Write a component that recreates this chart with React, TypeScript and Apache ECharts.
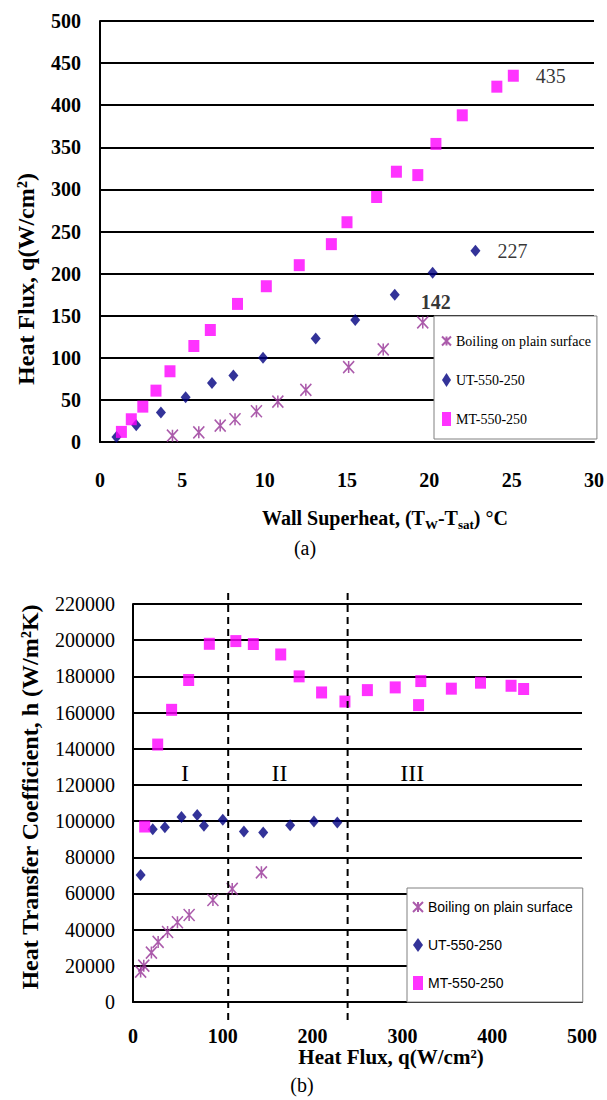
import React, { useEffect, useRef } from "react";
import * as echarts from "echarts";

// ---------- (a) Heat flux vs wall superheat ----------
const superheatTicks = [0, 5, 10, 15, 20, 25, 30];
const plainSuperheat = [4.4, 6.0, 7.3, 8.2, 9.5, 10.8, 12.5, 15.1, 17.2, 19.6];
const plainFlux = [7.5, 11.5, 19.5, 27, 36.5, 48, 62, 89, 110, 142];
const utSuperheat = [1.0, 2.2, 3.7, 5.2, 6.8, 8.1, 9.9, 13.1, 15.5, 17.9, 20.2, 22.8];
const utFlux = [6, 20, 35, 53, 70, 79, 100, 123, 145, 175, 201, 227];
const mtSuperheat = [1.3, 1.9, 2.6, 3.4, 4.25, 5.7, 6.7, 8.35, 10.1, 12.1, 14.05, 15.0, 16.8, 18.0, 19.3, 20.4, 22.0, 24.1, 25.1];
const mtFlux = [12, 27, 42, 61, 84, 114, 133, 164, 185, 210, 235, 261, 291, 321, 317, 354, 388, 422, 435];

// ---------- (b) Heat transfer coefficient vs heat flux ----------
const plainQ = [8.5, 12, 20.5, 28, 38.5, 49.5, 62.5, 89, 110.5, 143];
const plainH = [16800, 20100, 27300, 33200, 38700, 44100, 48100, 56400, 62500, 71700];
const utQ = [8.5, 22, 35.5, 54, 71.5, 79, 100, 123.5, 145, 175, 201.5, 227.5];
const utH = [70200, 95500, 96600, 102300, 103400, 97400, 100700, 94200, 93700, 97700, 99800, 99200];
const mtQ = [13, 27.5, 43, 62, 85, 114.5, 134, 164.5, 185, 210, 236, 261, 292, 320.5, 318, 354.5, 387, 421, 435];
const mtH = [97000, 142300, 161500, 178000, 198000, 199500, 197900, 192100, 180000, 171100, 166100, 172400, 173900, 177400, 164100, 173200, 176500, 174800, 173000];

const regionBounds = [106, 239];
const regionNames = ["I", "II", "III"];
const regionLabelQ = [58, 163, 311];
const regionLabelH = 126500;

const seriesNames = ["Boiling on plain surface", "UT-550-250", "MT-550-250"];

const SERIF = '"Liberation Serif", "Times New Roman", serif';
const SANS = '"Liberation Sans", Arial, sans-serif';
const PURPLE = "#963296";
const NAVY = "#000080";
const MAGENTA = "#FF00FF";
const ASTERISK = "path://M0,0L10,10M10,0L0,10M5,0L5,10";

function pts(xs: number[], ys: number[], labelIdx = -1, label: any = null) {
  return xs.map((x, i) =>
    i === labelIdx && label
      ? { value: [x, ys[i]], label: { show: true, formatter: (p: any) => String(p.value[1]), ...label } }
      : [x, ys[i]]
  );
}

const labelFont = { fontFamily: SERIF, fontSize: 20, color: "#000" };

function tickLabel(bold: boolean, margin: number) {
  const st = { fontFamily: SERIF, fontSize: 20, fontWeight: bold ? "bold" : "normal", color: "#000" };
  return {
    ...st,
    margin,
    formatter: (v: number) => `{t|${v}}`,
    rich: { t: st },
  };
}

function makeAxisCommon() {
  return {
    axisLine: { show: true, onZero: false, lineStyle: { color: "#000", width: 2 } },
    axisTick: { show: false },
  };
}

function legendText(family: string) {
  const st = { fontFamily: family, fontSize: 14, color: "#000" };
  return { ...st, rich: { t: st } };
}

export default function App() {
  const ref = useRef<HTMLDivElement>(null);

  useEffect(() => {
    if (!ref.current) return;
    const chart = echarts.init(ref.current, null, { renderer: "svg" });

    const symStar = {
      symbol: ASTERISK,
      symbolSize: [11, 12],
      itemStyle: { color: "rgba(0,0,0,0)", borderColor: PURPLE, borderWidth: 1.6 },
    };
    const symDiamond = { symbol: "diamond", symbolSize: [10, 12], itemStyle: { color: NAVY } };
    const symSquare = { symbol: "rect", symbolSize: [11, 12], itemStyle: { color: MAGENTA } };

    const option: any = {
      animation: false,
      backgroundColor: "#fff",
      textStyle: { fontFamily: SERIF },
      grid: [
        { left: 100, top: 21, width: 496, height: 421 },
        { left: 133, top: 604, width: 449, height: 398 },
      ],
      xAxis: [
        {
          gridIndex: 0,
          type: "value",
          min: superheatTicks[0],
          max: superheatTicks[superheatTicks.length - 1],
          interval: 5,
          ...makeAxisCommon(),
          splitLine: { show: false },
          axisLabel: tickLabel(true, 28),
        },
        {
          gridIndex: 1,
          type: "value",
          min: 0,
          max: 500,
          interval: 100,
          ...makeAxisCommon(),
          splitLine: { show: false },
          axisLabel: tickLabel(true, 24),
        },
      ],
      yAxis: [
        {
          gridIndex: 0,
          type: "value",
          min: 0,
          max: 500,
          interval: 50,
          ...makeAxisCommon(),
          splitLine: { show: true, lineStyle: { color: "#000", width: 2 } },
          axisLabel: tickLabel(true, 19),
        },
        {
          gridIndex: 1,
          type: "value",
          min: 0,
          max: 220000,
          interval: 20000,
          ...makeAxisCommon(),
          splitLine: { show: true, lineStyle: { color: "#000", width: 2 } },
          axisLabel: tickLabel(false, 18),
        },
      ],
      legend: [
        {
          orient: "vertical",
          left: 434,
          top: 316,
          data: seriesNames,
          itemWidth: 9,
          itemHeight: 14,
          itemGap: 25,
          padding: [18, 6, 13, 7],
          backgroundColor: "#fff",
          borderColor: "#808080",
          borderWidth: 1,
          selectedMode: false,
          formatter: (n: string) => `{t|${n}}`,
          textStyle: legendText(SERIF),
        },
        {
          orient: "vertical",
          left: 407,
          top: 888,
          data: seriesNames,
          itemWidth: 10,
          itemHeight: 14,
          itemGap: 24,
          padding: [12, 10, 12, 5],
          backgroundColor: "#fff",
          borderColor: "#808080",
          borderWidth: 1,
          selectedMode: false,
          formatter: (n: string) => `{t|${n}}`,
          textStyle: legendText(SANS),
        },
      ],
      series: [
        {
          type: "scatter",
          name: seriesNames[0],
          xAxisIndex: 0,
          yAxisIndex: 0,
          ...symStar,
          data: pts(plainSuperheat, plainFlux, plainFlux.length - 1, {
            position: "top",
            distance: 4,
            offset: [13, 0],
            ...labelFont,
            fontWeight: "bold",
          }),
        },
        {
          type: "scatter",
          name: seriesNames[1],
          xAxisIndex: 0,
          yAxisIndex: 0,
          ...symDiamond,
          data: pts(utSuperheat, utFlux, utFlux.length - 1, {
            position: "right",
            distance: 17,
            ...labelFont,
          }),
        },
        {
          type: "scatter",
          name: seriesNames[2],
          xAxisIndex: 0,
          yAxisIndex: 0,
          ...symSquare,
          data: pts(mtSuperheat, mtFlux, mtFlux.length - 1, {
            position: "right",
            distance: 17,
            ...labelFont,
          }),
        },
        {
          type: "scatter",
          name: seriesNames[0],
          xAxisIndex: 1,
          yAxisIndex: 1,
          ...symStar,
          data: pts(plainQ, plainH),
        },
        {
          type: "scatter",
          name: seriesNames[1],
          xAxisIndex: 1,
          yAxisIndex: 1,
          ...symDiamond,
          data: pts(utQ, utH),
        },
        {
          type: "scatter",
          name: seriesNames[2],
          xAxisIndex: 1,
          yAxisIndex: 1,
          ...symSquare,
          data: pts(mtQ, mtH),
        },
      ],
    };

    chart.setOption(option);

    const graphics: any[] = [];
    const txt = (id: string, x: number, y: number, style: any, rotation = 0) => ({
      type: "text",
      id,
      x,
      y,
      rotation,
      z: 100,
      style: {
        fill: "#000",
        textAlign: "center",
        textVerticalAlign: "middle",
        align: "center",
        verticalAlign: "middle",
        ...style,
      },
    });

    // axis titles & captions
    graphics.push(
      txt("yNameA", 26, 279, { text: "Heat Flux, q(W/cm²)", font: `bold 24px ${SERIF}` }, Math.PI / 2)
    );
    graphics.push(
      txt("xNameA", 385, 518, {
        text: "{m|Wall Superheat, (T}{s|W}{m|-T}{s|sat}{m|) °C}",
        rich: {
          m: { fontFamily: SERIF, fontWeight: "bold", fontSize: 20, lineHeight: 26, fill: "#000" },
          s: { fontFamily: SERIF, fontWeight: "bold", fontSize: 13, lineHeight: 14, verticalAlign: "bottom", fill: "#000" },
        },
      })
    );
    graphics.push(txt("capA", 305, 548, { text: "(a)", font: `20px ${SERIF}` }));
    graphics.push(
      txt("yNameB", 30, 797, { text: "Heat Transfer Coefficient, h (W/m²K)", font: `bold 24px ${SERIF}` }, Math.PI / 2)
    );
    graphics.push(txt("xNameB", 391, 1057, { text: "Heat Flux, q(W/cm²)", font: `bold 21px ${SERIF}` }));
    graphics.push(txt("capB", 302, 1085, { text: "(b)", font: `20px ${SERIF}` }));

    // regime boundaries (dashed) through the axis scales
    const yTop = (chart.convertToPixel({ gridIndex: 1 } as any, [0, 220000]) as number[])[1];
    const yBot = (chart.convertToPixel({ gridIndex: 1 } as any, [0, 0]) as number[])[1];
    regionBounds.forEach((q, i) => {
      const px = (chart.convertToPixel({ gridIndex: 1 } as any, [q, 0]) as number[])[0];
      graphics.push({
        type: "line",
        id: "bound" + i,
        z: 90,
        shape: { x1: px, y1: yTop - 11, x2: px, y2: yBot + 18 },
        style: { stroke: "#000", lineWidth: 2, lineDash: [7, 5] },
      });
    });
    regionNames.forEach((n, i) => {
      const p = chart.convertToPixel({ gridIndex: 1 } as any, [regionLabelQ[i], regionLabelH]) as number[];
      graphics.push(txt("region" + i, p[0], p[1], { text: n, font: `24px ${SERIF}` }));
    });

    chart.setOption({ graphic: graphics });

    return () => chart.dispose();
  }, []);

  return (
    <div
      ref={ref}
      style={{ position: "absolute", left: 0, top: 0, width: 607, height: 1100, background: "#fff" }}
    />
  );
}
